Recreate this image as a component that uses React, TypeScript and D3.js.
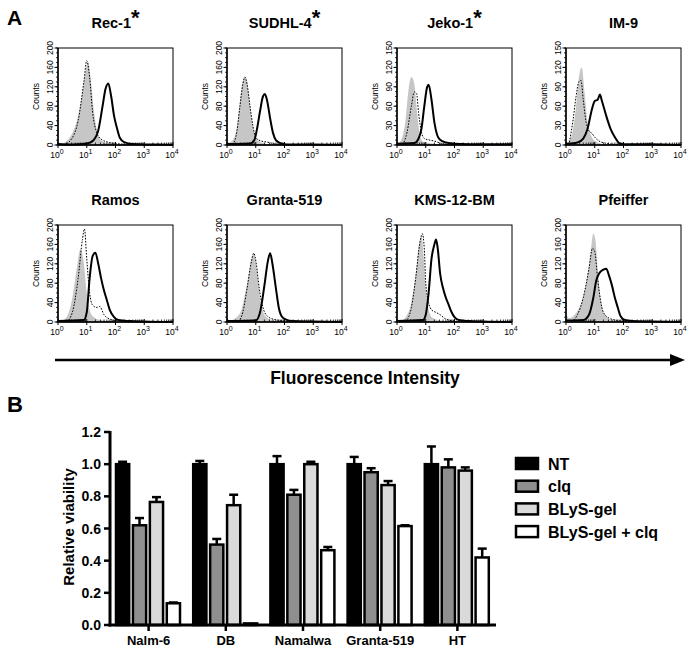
import React from "react";
import * as d3 from "d3";

// ---------- Panel A data (x = log10 fluorescence, y = counts) ----------
const histTitles = ["Rec-1", "SUDHL-4", "Jeko-1", "IM-9", "Ramos", "Granta-519", "KMS-12-BM", "Pfeiffer"];
const histStar = [true, true, true, false, false, false, false, false];
const histYMax = [200, 200, 150, 150, 200, 200, 200, 200];
const histYStep = [40, 40, 30, 30, 40, 40, 40, 40];

const rec1Gray: [number, number][] = [[0, 2], [0.1, 2], [0.3, 8], [0.5, 25], [0.7, 60], [0.85, 110], [0.95, 150], [1.05, 170], [1.15, 130], [1.25, 70], [1.35, 30], [1.5, 10], [1.7, 4], [2.0, 1], [2.5, 0]];
const rec1Dot: [number, number][] = [[0.2, 0], [0.5, 15], [0.7, 50], [0.9, 130], [1.0, 174], [1.1, 140], [1.2, 70], [1.35, 25], [1.5, 12], [1.8, 5], [2.2, 2], [2.6, 0]];
const rec1Solid: [number, number][] = [[0, 2], [0.5, 1], [0.9, 2], [1.0, 3], [1.2, 8], [1.4, 30], [1.55, 80], [1.65, 115], [1.75, 127], [1.85, 100], [1.95, 60], [2.05, 35], [2.15, 15], [2.3, 6], [2.6, 2], [3.0, 1], [3.5, 1], [4, 0]];

const sudGray: [number, number][] = [[0, 20], [0.05, 5], [0.2, 10], [0.35, 40], [0.45, 90], [0.55, 130], [0.65, 140], [0.75, 110], [0.85, 60], [0.95, 25], [1.1, 8], [1.3, 3], [1.6, 0]];
const sudDot: [number, number][] = [[0.2, 0], [0.35, 30], [0.45, 80], [0.55, 125], [0.62, 140], [0.7, 125], [0.8, 80], [0.9, 40], [1.0, 15], [1.2, 8], [1.4, 6], [1.6, 3], [2.0, 0]];
const sudSolid: [number, number][] = [[0, 2], [0.8, 3], [0.95, 10], [1.05, 35], [1.15, 70], [1.25, 100], [1.32, 105], [1.4, 90], [1.5, 55], [1.6, 25], [1.7, 10], [1.85, 4], [2.1, 1], [3, 1], [4, 0]];

const jekoGray: [number, number][] = [[0, 12], [0.05, 3], [0.15, 8], [0.3, 40], [0.4, 85], [0.5, 105], [0.6, 95], [0.7, 50], [0.8, 15], [0.9, 5], [1.1, 3], [1.5, 1], [2, 0]];
const jekoDot: [number, number][] = [[0.2, 0], [0.35, 20], [0.5, 60], [0.6, 82], [0.68, 80], [0.75, 50], [0.85, 20], [0.95, 10], [1.1, 8], [1.3, 6], [1.5, 3], [2, 0]];
const jekoSolid: [number, number][] = [[0, 2], [0.6, 3], [0.75, 10], [0.85, 25], [0.95, 60], [1.05, 90], [1.1, 93], [1.2, 70], [1.3, 35], [1.4, 15], [1.5, 8], [1.7, 4], [2, 2], [3, 1], [4, 1]];

const im9Gray: [number, number][] = [[0.05, 3], [0.2, 15], [0.35, 60], [0.45, 105], [0.55, 120], [0.65, 80], [0.75, 35], [0.9, 12], [1.1, 4], [1.4, 1], [2, 0]];
const im9Dot: [number, number][] = [[0.1, 0], [0.25, 40], [0.35, 75], [0.45, 98], [0.52, 100], [0.6, 70], [0.7, 35], [0.8, 22], [0.9, 18], [1.0, 12], [1.2, 5], [1.5, 2], [2, 0]];
const im9Solid: [number, number][] = [[0, 2], [0.4, 4], [0.6, 10], [0.75, 25], [0.9, 55], [1.0, 68], [1.1, 70], [1.18, 78], [1.25, 68], [1.4, 45], [1.55, 25], [1.7, 12], [1.85, 3], [2.0, 1], [3, 1], [4, 0]];

const ramosGray: [number, number][] = [[0.1, 2], [0.3, 10], [0.5, 50], [0.65, 110], [0.78, 150], [0.9, 120], [1.0, 60], [1.1, 25], [1.25, 10], [1.5, 4], [2, 0]];
const ramosDot: [number, number][] = [[0.3, 0], [0.5, 20], [0.7, 90], [0.85, 170], [0.92, 192], [1.0, 130], [1.1, 60], [1.2, 35], [1.35, 30], [1.45, 32], [1.6, 15], [1.8, 6], [2.1, 2], [2.5, 0]];
const ramosSolid: [number, number][] = [[0, 2], [0.9, 4], [1.0, 20], [1.1, 90], [1.2, 135], [1.3, 143], [1.4, 120], [1.5, 90], [1.6, 65], [1.7, 45], [1.8, 25], [1.95, 10], [2.1, 4], [2.5, 2], [3, 1], [4, 0]];

const grantaGray: [number, number][] = [[0, 10], [0.1, 3], [0.3, 8], [0.5, 25], [0.7, 80], [0.85, 130], [0.93, 140], [1.05, 100], [1.15, 50], [1.3, 15], [1.5, 5], [1.8, 1], [2, 0]];
const grantaDot: [number, number][] = [[0.4, 0], [0.55, 20], [0.7, 70], [0.85, 125], [0.93, 142], [1.02, 120], [1.12, 70], [1.25, 30], [1.4, 12], [1.6, 6], [2.0, 2], [2.4, 0]];
const grantaSolid: [number, number][] = [[0, 2], [1.0, 3], [1.15, 20], [1.3, 75], [1.42, 125], [1.5, 142], [1.58, 120], [1.7, 70], [1.8, 30], [1.9, 12], [2.05, 5], [2.3, 2], [3, 1], [4, 0]];

const kmsGray: [number, number][] = [[0.1, 2], [0.3, 10], [0.5, 40], [0.65, 100], [0.78, 165], [0.85, 177], [0.92, 140], [1.0, 70], [1.1, 25], [1.25, 8], [1.5, 3], [2, 0]];
const kmsDot: [number, number][] = [[0.3, 0], [0.5, 30], [0.65, 90], [0.8, 165], [0.88, 182], [0.95, 150], [1.0, 80], [1.1, 40], [1.2, 25], [1.35, 20], [1.5, 15], [1.7, 6], [2.0, 2], [2.5, 0]];
const kmsSolid: [number, number][] = [[0, 2], [0.9, 4], [1.0, 15], [1.1, 60], [1.2, 130], [1.3, 160], [1.36, 170], [1.42, 150], [1.5, 100], [1.6, 70], [1.7, 50], [1.8, 35], [1.9, 20], [2.0, 10], [2.15, 4], [2.5, 2], [3, 1], [4, 0]];

const pfGray: [number, number][] = [[0, 20], [0.1, 8], [0.3, 15], [0.5, 35], [0.7, 80], [0.85, 140], [0.95, 182], [1.02, 170], [1.1, 110], [1.2, 50], [1.35, 15], [1.6, 4], [2, 0]];
const pfDot: [number, number][] = [[0.2, 0], [0.4, 15], [0.6, 50], [0.8, 110], [0.92, 152], [1.0, 145], [1.1, 90], [1.2, 45], [1.3, 20], [1.5, 8], [1.8, 3], [2.2, 0]];
const pfSolid: [number, number][] = [[0, 3], [0.6, 4], [0.8, 15], [0.95, 50], [1.05, 85], [1.15, 100], [1.3, 108], [1.4, 110], [1.5, 95], [1.6, 75], [1.7, 50], [1.8, 30], [1.9, 12], [2.05, 4], [2.3, 2], [3, 1], [4, 0]];

const histGray = [rec1Gray, sudGray, jekoGray, im9Gray, ramosGray, grantaGray, kmsGray, pfGray];
const histDot = [rec1Dot, sudDot, jekoDot, im9Dot, ramosDot, grantaDot, kmsDot, pfDot];
const histSolid = [rec1Solid, sudSolid, jekoSolid, im9Solid, ramosSolid, grantaSolid, kmsSolid, pfSolid];
const decades = [0, 1, 2, 3, 4];

// ---------- Panel B data ----------
const categories = ["Nalm-6", "DB", "Namalwa", "Granta-519", "HT"];
const seriesNames = ["NT", "clq", "BLyS-gel", "BLyS-gel + clq"];
const ntValues = [1.0, 1.0, 1.0, 1.0, 1.0];
const ntErr = [0.015, 0.02, 0.05, 0.045, 0.11];
const clqValues = [0.62, 0.5, 0.81, 0.95, 0.98];
const clqErr = [0.045, 0.035, 0.03, 0.025, 0.05];
const blysValues = [0.765, 0.745, 1.0, 0.87, 0.96];
const blysErr = [0.03, 0.065, 0.015, 0.025, 0.02];
const comboValues = [0.135, 0.01, 0.465, 0.615, 0.42];
const comboErr = [0.005, 0, 0.02, 0.005, 0.055];
const viabilityTicks = [0, 0.2, 0.4, 0.6, 0.8, 1.0, 1.2];

const seriesFill = ["#000000", "#8f8f8f", "#dadada", "#ffffff"];
const FONT = "Arial, 'Liberation Sans', Helvetica, sans-serif";

function Histogram({ idx, left, top }: { idx: number; left: number; top: number }) {
  const w = 115;
  const h = 97;
  const x = d3.scaleLinear().domain([0, 4]).range([left, left + w]);
  const y = d3.scaleLinear().domain([0, histYMax[idx]]).range([top + h, top]);
  const area = d3
    .area<[number, number]>()
    .x((d) => x(d[0]))
    .y0(y(0))
    .y1((d) => y(d[1]))
    .curve(d3.curveMonotoneX);
  const line = d3
    .line<[number, number]>()
    .x((d) => x(d[0]))
    .y((d) => y(d[1]))
    .curve(d3.curveMonotoneX);
  const majorTicks = d3.range(0, histYMax[idx] + 1, histYStep[idx]);
  const minorTicks = d3.range(0, histYMax[idx] + 1, histYStep[idx] / 4);
  const minorX: number[] = [];
  for (let dcd = 0; dcd < 4; dcd++) for (let k = 2; k <= 9; k++) minorX.push(dcd + Math.log10(k));
  const y0 = top + h;
  return (
    <g>
      <text
        x={left + w / 2}
        y={top - 20}
        textAnchor="middle"
        fontFamily={FONT}
        fontWeight="bold"
        fontSize={14.5}
      >
        {histTitles[idx]}
        {histStar[idx] && (
          <tspan fontSize={22} dy={-3}>
            *
          </tspan>
        )}
      </text>
      <path d={area(histGray[idx]) || ""} fill="#c6c6c6" />
      <path d={line(histDot[idx]) || ""} fill="none" stroke="#000" strokeWidth={1} strokeDasharray="1.6,1.4" />
      <path d={line(histSolid[idx]) || ""} fill="none" stroke="#000" strokeWidth={2} />
      <rect x={left} y={top} width={w} height={h} fill="none" stroke="#000" strokeWidth={1} />
      <line x1={left} x2={left} y1={top} y2={y0} stroke="#000" strokeWidth={1.4} />
      <line x1={left} x2={left + w} y1={y0} y2={y0} stroke="#000" strokeWidth={1.4} />
      {minorTicks.map((t) => (
        <line key={"ym" + t} x1={left - 2} x2={left} y1={y(t)} y2={y(t)} stroke="#000" strokeWidth={0.8} />
      ))}
      {majorTicks.map((t) => (
        <g key={"y" + t}>
          <line x1={left - 3.5} x2={left} y1={y(t)} y2={y(t)} stroke="#000" strokeWidth={1} />
          <text
            transform={`translate(${left - 5},${y(t)}) rotate(-90)`}
            textAnchor="middle"
            fontFamily={FONT}
            fontSize={8.5}
          >
            {t}
          </text>
        </g>
      ))}
      <text
        transform={`translate(${left - 19},${top + h / 2}) rotate(-90)`}
        textAnchor="middle"
        fontFamily={FONT}
        fontSize={8.5}
      >
        Counts
      </text>
      {minorX.map((m, i) => (
        <line key={"xm" + i} x1={x(m)} x2={x(m)} y1={y0 - 2.5} y2={y0} stroke="#000" strokeWidth={0.8} />
      ))}
      {decades.map((dcd) => (
        <g key={"x" + dcd}>
          <line x1={x(dcd)} x2={x(dcd)} y1={y0 - 3} y2={y0 + 3} stroke="#000" strokeWidth={1} />
          <text x={x(dcd) - 1} y={y0 + 13} textAnchor="middle" fontFamily={FONT} fontSize={8.5}>
            10
            <tspan fontSize={7} dy={-4.5}>
              {dcd}
            </tspan>
          </text>
        </g>
      ))}
    </g>
  );
}

function BarPanel() {
  const x = d3.scaleBand<string>().domain(categories).range([110, 496]);
  const inner = d3.scaleBand<string>().domain(seriesNames).range([6, 70]).paddingInner(0.22);
  const y = d3.scaleLinear().domain([0, 1.2]).range([625, 432]);
  const vals = [ntValues, clqValues, blysValues, comboValues];
  const errs = [ntErr, clqErr, blysErr, comboErr];
  const bw = inner.bandwidth();
  return (
    <g>
      {categories.map((c, ci) =>
        seriesNames.map((s, si) => {
          const bx = (x(c) as number) + (inner(s) as number);
          const v = vals[si][ci];
          const e = errs[si][ci];
          const cx = bx + bw / 2;
          return (
            <g key={c + s}>
              {e > 0 && (
                <g>
                  <line x1={cx} x2={cx} y1={y(v)} y2={y(v + e)} stroke="#000" strokeWidth={2.5} />
                  <line x1={cx - 4.5} x2={cx + 4.5} y1={y(v + e)} y2={y(v + e)} stroke="#000" strokeWidth={2.5} />
                </g>
              )}
              <rect
                x={bx}
                y={y(v)}
                width={bw}
                height={y(0) - y(v)}
                fill={seriesFill[si]}
                stroke="#000"
                strokeWidth={2.5}
              />
            </g>
          );
        })
      )}
      <line x1={110} x2={110} y1={431} y2={626.5} stroke="#000" strokeWidth={3} />
      <line x1={108.5} x2={496} y1={625} y2={625} stroke="#000" strokeWidth={3} />
      {viabilityTicks.map((t) => (
        <g key={"t" + t}>
          <line x1={104} x2={110} y1={y(t)} y2={y(t)} stroke="#000" strokeWidth={2.5} />
          <text x={101} y={y(t) + 5} textAnchor="end" fontFamily={FONT} fontWeight="bold" fontSize={14}>
            {d3.format(".1f")(t)}
          </text>
        </g>
      ))}
      {categories.map((c) => {
        const cx = (x(c) as number) + x.bandwidth() / 2;
        return (
          <g key={"c" + c}>
            <line x1={cx} x2={cx} y1={625} y2={631} stroke="#000" strokeWidth={2.5} />
            <text x={cx} y={645} textAnchor="middle" fontFamily={FONT} fontWeight="bold" fontSize={13}>
              {c}
            </text>
          </g>
        );
      })}
      <text
        transform="translate(74,527) rotate(-90)"
        textAnchor="middle"
        fontFamily={FONT}
        fontWeight="bold"
        fontSize={15}
      >
        Relative viability
      </text>
      {seriesNames.map((s, si) => (
        <g key={"lg" + s}>
          <rect x={516} y={458 + si * 22.7} width={22} height={11} fill={seriesFill[si]} stroke="#000" strokeWidth={2.5} />
          <text x={548} y={469.5 + si * 22.7} fontFamily={FONT} fontWeight="bold" fontSize={16}>
            {s}
          </text>
        </g>
      ))}
    </g>
  );
}

export default function App() {
  const lefts = [58, 227, 397, 566];
  const tops = [48, 225];
  return (
    <svg width={689} height={647} style={{ position: "absolute", left: 0, top: 0, background: "#fff" }}>
      <rect width={689} height={647} fill="#fff" />
      <text x={7} y={25} fontFamily={FONT} fontWeight="bold" fontSize={21}>
        A
      </text>
      {histTitles.map((_, i) => (
        <Histogram key={i} idx={i} left={lefts[i % 4]} top={tops[Math.floor(i / 4)]} />
      ))}
      <line x1={55} x2={672} y1={360} y2={360} stroke="#000" strokeWidth={2.5} />
      <path d="M670,354 L685,360 L670,366 Z" fill="#000" />
      <text x={365} y={384} textAnchor="middle" fontFamily={FONT} fontWeight="bold" fontSize={17.5}>
        Fluorescence Intensity
      </text>
      <text x={7} y={412} fontFamily={FONT} fontWeight="bold" fontSize={22}>
        B
      </text>
      <BarPanel />
    </svg>
  );
}
